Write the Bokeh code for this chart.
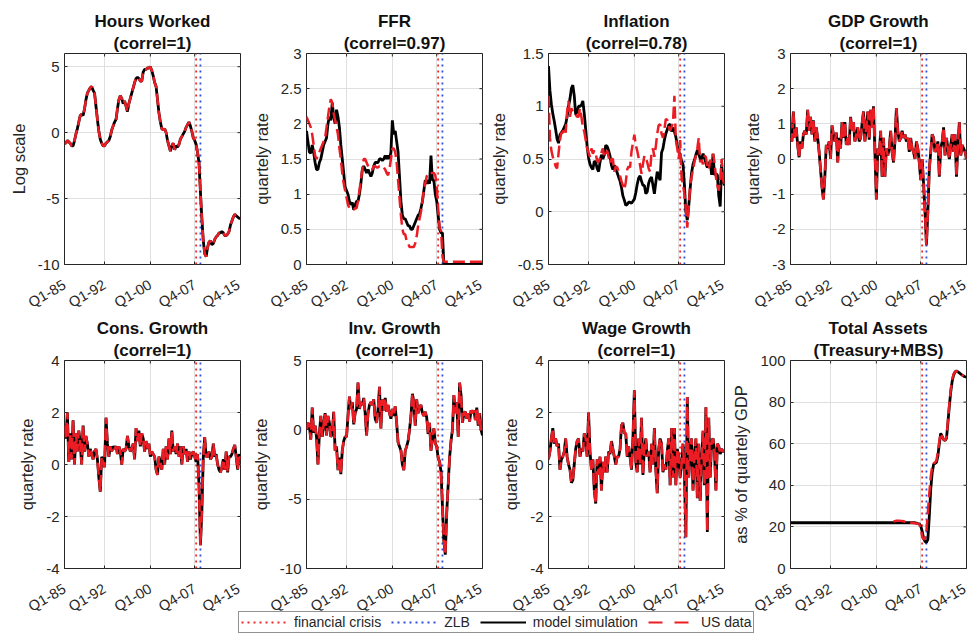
import math
from bokeh.plotting import figure
from bokeh.models import (FixedTicker, Legend, LegendItem, Title,
                          PrintfTickFormatter)
from bokeh.layouts import row, column
from bokeh.embed import file_html
from bokeh.resources import INLINE

# ---------------- data ----------------
quarters = list(range(1, 125))          # Q1-85 ... Q4-15
xtick_pos = [1, 29, 61, 92, 124]
xtick_lab = ["Q1-85", "Q1-92", "Q1-00", "Q4-07", "Q4-15"]
crisis_q = 93      # financial crisis
zlb_q = 96         # zero lower bound

hours = [-0.8, -0.8, -0.6, -0.7, -0.8, -1.0, -1.0, -0.6, -0.1, 0.3,
         0.8, 1.3, 1.4, 1.3, 1.8, 2.5, 3.0, 3.2, 3.4, 3.5,
         3.2, 3.0, 2.0, 1.0, 0.1, -0.5, -0.8, -1.0, -1.0, -0.8,
         -0.7, -0.6, -0.3, 0.2, 0.5, 0.8, 1.0, 1.8, 2.5, 2.8,
         2.6, 2.2, 2.4, 2.0, 1.6, 2.2, 2.6, 3.0, 3.4, 3.8,
         4.1, 4.2, 4.1, 3.9, 3.9, 4.6, 4.8, 4.8, 4.9, 4.9,
         5.0, 4.7, 4.3, 3.8, 3.5, 2.5, 1.5, 0.8, 0.3, 0.2,
         0.3, 0.0, -0.6, -1.0, -1.4, -1.0, -0.8, -1.3, -1.0, -1.1,
         -0.9, -0.5, -0.3, -0.1, 0.1, 0.4, 0.6, 0.8, 0.5, 0.1,
         -0.4, -0.6, -0.9, -1.5, -2.3, -4.5, -6.5, -8.2, -9.2, -9.4,
         -8.7, -8.3, -8.2, -8.5, -8.4, -8.1, -7.9, -7.8, -7.6, -7.6,
         -7.5, -7.6, -7.8, -7.8, -7.7, -7.5, -7.0, -6.7, -6.4, -6.2,
         -6.3, -6.4, -6.5, -6.5]

ffr_model = [1.9, 1.75, 1.6, 1.58, 1.7, 1.6, 1.45, 1.35, 1.35, 1.45,
             1.5, 1.6, 1.7, 1.75, 1.8, 2.0, 2.1, 2.05, 2.3, 2.1,
             2.0, 2.2, 2.1, 1.95, 1.7, 1.5, 1.3, 1.1, 1.05, 1.0,
             0.9, 0.85, 0.88, 0.78, 0.85, 0.9, 0.9, 1.0, 1.15, 1.35,
             1.4, 1.35, 1.3, 1.35, 1.3, 1.25, 1.3, 1.4, 1.45, 1.45,
             1.45, 1.5, 1.5, 1.48, 1.5, 1.55, 1.5, 1.55, 1.5, 1.6,
             2.05, 1.85, 1.9, 1.75, 1.6, 1.25, 0.9, 0.7, 0.65, 0.65,
             0.6, 0.55, 0.55, 0.5, 0.5, 0.55, 0.6, 0.65, 0.7, 0.72,
             0.8, 0.9, 1.05, 1.2, 1.15, 1.2, 1.15, 1.55, 1.2, 1.2,
             1.0, 0.9, 0.7, 0.5, 0.45, 0.45, 0.0, 0.0, 0.0, 0.0,
             0.0, 0.0, 0.0, 0.0, 0.0, 0.0, 0.0, 0.0, 0.0, 0.0,
             0.0, 0.0, 0.0, 0.0, 0.0, 0.0, 0.0, 0.0, 0.0, 0.0,
             0.0, 0.0, 0.0, 0.0]
ffr_data = [2.1, 2.05, 2.0, 1.95, 1.85, 1.7, 1.55, 1.5, 1.55, 1.6,
            1.65, 1.7, 1.75, 1.8, 1.95, 2.1, 2.25, 2.35, 2.3, 2.15,
            2.05, 1.95, 1.85, 1.65, 1.5, 1.3, 1.15, 1.05, 0.95, 0.85,
            0.8, 0.78, 0.78, 0.78, 0.8, 0.8, 0.9, 1.05, 1.2, 1.35,
            1.5, 1.5, 1.45, 1.4, 1.35, 1.35, 1.35, 1.4, 1.4, 1.38,
            1.38, 1.4, 1.4, 1.38, 1.38, 1.35, 1.3, 1.27, 1.35, 1.5,
            1.65, 1.65, 1.6, 1.45, 1.2, 0.95, 0.7, 0.5, 0.43, 0.43,
            0.33, 0.3, 0.25, 0.25, 0.25, 0.25, 0.3, 0.4, 0.55, 0.65,
            0.75, 0.9, 1.05, 1.15, 1.25, 1.3, 1.3, 1.3, 1.3, 1.3,
            1.27, 1.12, 0.8, 0.52, 0.48, 0.13, 0.04, 0.04, 0.04, 0.04,
            0.04, 0.04, 0.04, 0.04, 0.04, 0.04, 0.04, 0.04, 0.04, 0.04,
            0.04, 0.04, 0.04, 0.04, 0.04, 0.04, 0.04, 0.04, 0.04, 0.04,
            0.04, 0.04, 0.04, 0.04]

infl_model = [1.38, 1.15, 1.02, 0.93, 0.86, 0.78, 0.69, 0.65, 0.73, 0.75,
              0.77, 0.8, 0.83, 0.9, 1.0, 1.07, 1.17, 1.2, 1.1, 0.92,
              0.95, 1.0, 1.0, 1.01, 1.05, 0.93, 0.78, 0.62, 0.51, 0.45,
              0.42, 0.4, 0.48, 0.47, 0.41, 0.38, 0.47, 0.54, 0.5, 0.54,
              0.63, 0.62, 0.58, 0.53, 0.44, 0.4, 0.44, 0.41, 0.37, 0.33,
              0.29, 0.23, 0.15, 0.11, 0.06, 0.07, 0.09, 0.09, 0.08, 0.1,
              0.12, 0.18, 0.26, 0.32, 0.34, 0.29, 0.25, 0.25, 0.17, 0.19,
              0.27, 0.31, 0.33, 0.25, 0.17, 0.28, 0.38, 0.33, 0.3, 0.56,
              0.6, 0.68, 0.74, 0.78, 0.82, 0.83, 0.76, 0.8, 0.76, 0.71,
              0.63, 0.57, 0.54, 0.48, 0.45, 0.25, 0.0, -0.08, 0.05, 0.22,
              0.37, 0.45, 0.49, 0.54, 0.58, 0.55, 0.5, 0.5, 0.55, 0.51,
              0.46, 0.42, 0.45, 0.48, 0.35, 0.55, 0.35, 0.36, 0.35, 0.15,
              0.05, 0.45, 0.3, 0.25]
infl_data = [1.1, 0.7, 0.58, 0.52, 0.48, 0.43, 0.41, 0.55, 0.68, 0.75,
             0.75, 0.8, 0.75, 0.95, 1.05, 0.9, 0.98, 0.95, 0.95, 0.92,
             0.9, 0.9, 0.98, 0.9, 0.8, 0.76, 0.68, 0.6, 0.56, 0.52,
             0.6, 0.55, 0.58, 0.55, 0.48, 0.47, 0.51, 0.56, 0.6, 0.52,
             0.54, 0.58, 0.52, 0.46, 0.5, 0.5, 0.38, 0.43, 0.42, 0.38,
             0.34, 0.29, 0.25, 0.21, 0.28, 0.4, 0.43, 0.42, 0.57, 0.65,
             0.73, 0.63, 0.58, 0.51, 0.44, 0.36, 0.45, 0.53, 0.51, 0.47,
             0.41, 0.38, 0.56, 0.6, 0.52, 0.62, 0.74, 0.82, 0.83, 0.74,
             0.7, 0.78, 0.88, 0.87, 0.81, 0.77, 0.8, 0.85, 1.1, 0.68,
             0.6, 0.5, 0.68, 0.33, 0.25, 0.17, 0.03, -0.15, 0.05, 0.25,
             0.33, 0.4, 0.47, 0.53, 0.6, 0.7, 0.47, 0.49, 0.45, 0.53,
             0.52, 0.42, 0.4, 0.49, 0.47, 0.55, 0.47, 0.33, 0.25, 0.2,
             0.3, 0.5, 0.3, 0.25]

gdp = [0.6, 0.5, 1.35, 0.6, 0.9, 0.4, 0.05, 0.5, 0.3, 0.7,
       0.8, 0.7, 1.4, 0.8, 1.2, 0.7, 1.1, 0.5, 0.9, 0.6,
       0.2, -0.3, -0.8, -1.15, -0.5, 0.4, 0.3, 0.5, 0.0, 0.95,
       0.7, 0.5, 0.75, -0.1, 0.6, 0.3, 1.05, 0.6, 1.05, 0.4,
       0.6, 0.4, 1.2, 0.8, 1.05, 0.5, 0.7, 0.9, 0.5, 0.6,
       1.0, 1.35, 0.5, 0.9, 1.35, 0.55, 1.4, 0.9, 1.5, 0.2,
       -1.15, 0.3, 0.1, 0.8, -0.5, 0.6, -0.5, 0.3, 0.1, 0.3,
       0.8, 0.2, -0.1, 0.5, 1.45, 0.8, 0.5, 0.6, 0.8, 0.6,
       0.7, 0.5, 0.6, 0.2, 0.6, 0.3, 0.2, 0.0, 0.5, 0.3,
       -0.1, -0.6, 0.0, -0.7, -1.5, -2.45, -1.5, -0.3, 0.2, 0.7,
       0.6, 0.2, 0.3, 0.5, -0.5, 0.3, 0.5, 0.9, 0.1, 0.6,
       0.3, 0.0, 0.4, 0.7, 0.2, 0.7, -0.5, 0.4, 1.05, 0.1,
       0.4, 0.3, 0.2, 0.0]

cons = [1.5, 1.0, 2.0, 0.1, 1.2, 0.2, 1.7, 0.0, 1.2, 0.5,
        1.3, 0.8, 0.0, 1.5, 0.5, 1.1, 0.8, 0.3, 0.6, 0.4,
        0.2, 0.5, 0.6, 0.2, -0.5, -1.05, 0.3, 0.1, -0.1, 1.8,
        0.8, 0.3, 0.7, 0.5, 0.7, 0.6, 0.7, 0.4, 0.7, 0.5,
        0.0, 0.6, 0.5, 0.6, 1.1, 0.7, 0.5, 0.6, 0.8, 0.2,
        1.4, 0.9, 1.3, 0.7, 1.2, 1.0, 0.5, 0.9, 0.6, 0.8,
        0.3, 0.5, 0.4, 0.3, -0.2, -0.4, 0.3, 0.1, -0.2, 0.6,
        0.0, 0.7, 0.2, 1.0, 0.4, 1.3, 0.5, 0.7, 0.4, 0.8,
        0.3, 0.7, 0.0, 0.7, 0.4, 0.6, 0.1, 0.5, 0.2, 0.4,
        0.5, 0.3, 0.1, 0.4, -0.8, -3.1, -1.8, 0.3, 1.05, 0.3,
        0.3, 0.5, 0.2, 0.3, 0.8, 0.3, 0.4, 0.0, -0.2, -0.3,
        -0.1, 0.2, -0.2, 0.5, -0.3, 0.3, 0.3, 0.4, 0.6, 0.75,
        0.3, -0.2, 0.4, 0.2]

inv = [0.0, 0.5, 0.3, -0.7, 1.6, -0.2, 0.3, -0.5, -2.5, -0.3,
       1.0, -0.5, 0.4, 1.2, -0.4, 1.0, 0.5, -0.5, -0.3, 1.3,
       -1.5, -1.2, -2.9, -2.0, -3.2, -1.5, -0.8, -0.5, -0.5, 1.0,
       2.4, 1.5, 2.0, 0.4, 1.2, 1.5, 3.4, 1.5, 2.0, 1.8,
       2.3, 1.2, -0.4, 1.2, 1.8, 2.0, 1.8, 2.2, 0.8, 0.5,
       1.5, 3.1, 0.1, 2.2, 1.4, 2.3, 1.3, 1.8, 1.2, 0.8,
       1.5, 1.0, 1.7, 0.5, -0.9, -1.2, -1.5, -2.5, -2.9, -1.5,
       -1.2, -0.8, 0.0, 1.0, 2.6, 2.0, 0.3, 2.2, 1.2, 1.6,
       1.8, 1.2, 1.0, 1.3, 0.9, -0.3, 0.5, -1.5, -0.6, 0.1,
       -1.0, -1.2, -2.0, -2.3, -3.0, -5.5, -8.0, -9.0, -6.0, -4.0,
       -2.0, -0.8, 0.0, 2.5, 1.2, 2.0, -0.5, 3.4, 2.5, 0.5,
       1.2, 1.3, 0.8, 1.2, 0.6, 1.4, 1.2, 1.4, 0.7, 1.6,
       0.3, 1.2, 0.0, -0.4]

wage = [0.2, 0.5, 1.0, 1.4, 0.8, 1.0, 0.7, 0.8, -0.2, 0.2,
        0.3, 0.5, 1.0, 0.3, 0.0, -0.2, -0.7, -0.6, 0.0, 0.6,
        0.9, 1.0, 0.3, 0.6, 0.5, 1.2, 1.0, 0.3, 2.0, 0.5,
        -0.2, 0.2, -1.0, -1.5, 0.2, -0.4, 0.3, -1.0, 0.1, -0.3,
        0.3, -0.3, 0.5, 0.4, 0.9, 0.6, 0.3, 0.0, 0.3, 0.3,
        0.6, 1.5, 1.6, 1.2, 1.2, 0.3, 0.7, 0.3, -0.2, 1.0,
        2.85, 0.1, -0.3, 1.0, 0.0, 1.8, -0.4, 0.6, 1.0, 0.3,
        0.5, -0.3, 0.8, 0.0, 1.4, -0.2, -1.1, 0.6, 1.0, 0.8,
        -0.3, 0.0, -0.2, 0.5, 1.0, -0.8, 1.4, -0.5, 1.4, -0.8,
        0.6, 0.3, -0.5, 0.0, 0.8, -0.3, -2.8, 2.6, -0.5, 0.5,
        1.0, -1.0, 0.3, 1.0, -1.3, 0.8, -1.4, 0.2, 1.3, -0.8,
        2.2, -2.6, 1.8, -0.5, 0.9, 1.0, 0.5, -1.0, 0.8, 0.7,
        0.4, 0.6, 0.5, 0.5]

assets_model = [22.0, 22.0, 22.0, 22.0, 22.0, 22.0, 22.0, 22.0, 22.0, 22.0,
                22.0, 22.0, 22.0, 22.0, 22.0, 22.0, 22.0, 22.0, 22.0, 22.0,
                22.0, 22.0, 22.0, 22.0, 22.0, 22.0, 22.0, 22.0, 22.0, 22.0,
                22.0, 22.0, 22.0, 22.0, 22.0, 22.0, 22.0, 22.0, 22.0, 22.0,
                22.0, 22.0, 22.0, 22.0, 22.0, 22.0, 22.0, 22.0, 22.0, 22.0,
                22.0, 22.0, 22.0, 22.0, 22.0, 22.0, 22.0, 22.0, 22.0, 22.0,
                22.0, 22.0, 22.0, 22.0, 22.0, 22.0, 22.0, 22.0, 22.0, 22.0,
                22.0, 22.0, 22.0, 22.0, 22.0, 22.0, 22.0, 22.0, 22.0, 22.0,
                22.0, 22.0, 22.0, 22.0, 22.0, 22.0, 22.0, 22.0, 21.8, 21.6,
                21.5, 20.5, 18.0, 14.5, 13.0, 12.5, 14.0, 25.0, 38.0, 46.0,
                50.0, 50.5, 51.0, 54.0, 60.0, 65.0, 63.5, 62.0, 61.5, 62.5,
                70.0, 78.0, 85.0, 90.0, 93.0, 94.5, 95.0, 94.5, 94.0, 93.5,
                93.0, 92.5, 92.2, 92.0]
assets_data_start = 73   # US data available from this quarter on
assets_data = [22.6, 22.8, 23.0, 23.0, 23.0, 22.9, 22.8, 22.7, 22.5, 22.3,
               22.2, 22.1, 22.0, 22.0, 21.9, 21.8, 21.7, 21.5, 21.2, 19.5,
               15.5, 14.0, 14.5, 18.0, 27.0, 36.0, 44.0, 49.0, 50.5, 51.0,
               52.0, 56.0, 61.0, 65.0, 63.5, 62.0, 61.5, 63.0, 71.0, 79.0,
               86.0, 91.0, 93.5, 94.5, 95.0, 94.5, 94.0, 93.5, 93.0, 92.5]
assets_quarters = quarters[assets_data_start - 1:assets_data_start - 1 + len(assets_data)]

# ---------------- style ----------------
FONT = "Liberation Sans"
AX = "#262626"
RED = "#ec1c24"
RED_DOT = "#f02828"
BLUE_DOT = "#2f4fe0"
GRID = "#dfdfdf"
X_END = quarters[-1]


def make_panel(title, subtitle, ylabel, ylim, yticks, mx, my, dx, dy, top_row):
    if top_row:
        b_top, f_h = 53, 211
    else:
        b_top, f_h = 48, 208
    p = figure(frame_width=176, frame_height=f_h, x_range=(quarters[0], X_END), y_range=ylim,
               output_backend="svg", toolbar_location=None, title=None,
               min_border_left=64, min_border_right=2,
               min_border_top=b_top, min_border_bottom=62)
    p.background_fill_color = "white"
    p.border_fill_color = "white"
    p.border_fill_alpha = 0.0
    p.outline_line_color = AX
    p.outline_line_width = 1
    p.outline_line_alpha = 1.0

    # two centred title lines (first added sits nearest the frame)
    for txt, so in ((subtitle, 2), (title, 0)):
        p.add_layout(Title(text=txt, align="center", text_font=FONT, text_font_size="17px",
                           text_font_style="bold", text_color="#111111", standoff=so,
                           text_line_height=1.0), "above")

    xa = p.xaxis[0]
    ya = p.yaxis[0]
    for ax in (xa, ya):
        ax.axis_line_color = None
        ax.major_tick_in = 3
        ax.major_tick_out = 0
        ax.major_tick_line_color = AX
        ax.minor_tick_line_color = None
        ax.major_label_text_font = FONT
        ax.major_label_text_color = AX
    xa.major_label_text_font_size = "14.5px"
    ya.major_label_text_font_size = "15px"
    xa.ticker = FixedTicker(ticks=xtick_pos)
    xa.major_label_overrides = dict(zip(xtick_pos, xtick_lab))
    xa.major_label_orientation = math.pi / 6
    xa.major_label_standoff = 19
    ya.ticker = FixedTicker(ticks=yticks)
    ya.formatter = PrintfTickFormatter(format="%g")
    ya.major_label_standoff = 5
    ya.axis_label = ylabel
    ya.axis_label_text_font = FONT
    ya.axis_label_text_font_size = "16.5px"
    ya.axis_label_text_font_style = "normal"
    ya.axis_label_text_color = AX
    ya.axis_label_standoff = 7

    p.xgrid.ticker = FixedTicker(ticks=xtick_pos)
    p.ygrid.ticker = FixedTicker(ticks=yticks)
    p.grid.grid_line_color = GRID
    p.grid.grid_line_width = 1

    # mirrored inward ticks on the top and right edges (MATLAB "box on")
    p.ray(x=xtick_pos, y=[ylim[1]] * len(xtick_pos), length=3, length_units="screen",
          angle=-math.pi / 2, line_color=AX, line_width=1)
    p.ray(x=[X_END] * len(yticks), y=yticks, length=3, length_units="screen",
          angle=math.pi, line_color=AX, line_width=1)

    p.segment(x0=[crisis_q], x1=[crisis_q], y0=[ylim[0]], y1=[ylim[1]],
              line_color=RED_DOT, line_dash="2 4", line_width=1.8)
    p.segment(x0=[zlb_q], x1=[zlb_q], y0=[ylim[0]], y1=[ylim[1]],
              line_color=BLUE_DOT, line_dash="2 4", line_width=1.8)
    p.line(mx, my, line_color="black", line_width=2.8)
    p.line(dx, dy, line_color=RED, line_width=2.5, line_dash="12 5")
    return p


panels_top = [
    make_panel("Hours Worked", "(correl=1)", "Log scale", (-10, 6), [-10, -5, 0, 5],
               quarters, hours, quarters, hours, True),
    make_panel("FFR", "(correl=0.97)", "quartely rate", (0, 3), [0, 0.5, 1, 1.5, 2, 2.5, 3],
               quarters, ffr_model, quarters, ffr_data, True),
    make_panel("Inflation", "(correl=0.78)", "quartely rate", (-0.5, 1.5), [-0.5, 0, 0.5, 1, 1.5],
               quarters, infl_model, quarters, infl_data, True),
    make_panel("GDP Growth", "(correl=1)", "quartely rate", (-3, 3), [-3, -2, -1, 0, 1, 2, 3],
               quarters, gdp, quarters, gdp, True),
]
panels_bot = [
    make_panel("Cons. Growth", "(correl=1)", "quartely rate", (-4, 4), [-4, -2, 0, 2, 4],
               quarters, cons, quarters, cons, False),
    make_panel("Inv. Growth", "(correl=1)", "quartely rate", (-10, 5), [-10, -5, 0, 5],
               quarters, inv, quarters, inv, False),
    make_panel("Wage Growth", "(correl=1)", "quartely rate", (-4, 4), [-4, -2, 0, 2, 4],
               quarters, wage, quarters, wage, False),
    make_panel("Total Assets", "(Treasury+MBS)", "as % of quartely GDP", (0, 100),
               [0, 20, 40, 60, 80, 100],
               quarters, assets_model, assets_quarters, assets_data, False),
]

# ---------------- legend strip ----------------
leg = figure(width=968, height=25, x_range=(0, 1), y_range=(0, 1), title=None,
             output_backend="svg", toolbar_location=None, min_border=0,
             x_axis_type=None, y_axis_type=None)
leg.outline_line_color = None
leg.background_fill_alpha = 0.0
leg.border_fill_alpha = 0.0
hidden_x = [2, 3]   # legend-only renderers, kept outside the visible range
hidden_y = [2, 3]
r_cr = leg.line(x=hidden_x, y=hidden_y, line_color=RED_DOT, line_dash="2 4", line_width=1.8)
r_zl = leg.line(x=hidden_x, y=hidden_y, line_color=BLUE_DOT, line_dash="2 4", line_width=1.8)
r_md = leg.line(x=hidden_x, y=hidden_y, line_color="black", line_width=2.2)
r_us = leg.line(x=hidden_x, y=hidden_y, line_color=RED, line_width=2.2, line_dash="14 12")
legend = Legend(items=[LegendItem(label="financial crisis", renderers=[r_cr]),
                       LegendItem(label="ZLB", renderers=[r_zl]),
                       LegendItem(label="model simulation", renderers=[r_md]),
                       LegendItem(label="US data", renderers=[r_us])],
                orientation="horizontal", location=(238, 0),
                label_text_font=FONT, label_text_font_size="14px", label_text_color=AX,
                glyph_width=46, glyph_height=14, label_height=14, label_standoff=7,
                spacing=10, padding=2, margin=0,
                border_line_color=AX, border_line_width=1,
                background_fill_color="white", background_fill_alpha=1.0)
leg.add_layout(legend)

# rows overlap slightly so the rotated tick labels can sit where MATLAB puts them
top_row = row(*panels_top)
bottom_row = row(*panels_bot, margin=(-14, 0, 0, 0))
leg.margin = (-22, 0, 0, 0)
layout = column(top_row, bottom_row, leg)
open("out.html", "w").write(file_html(layout, INLINE))
